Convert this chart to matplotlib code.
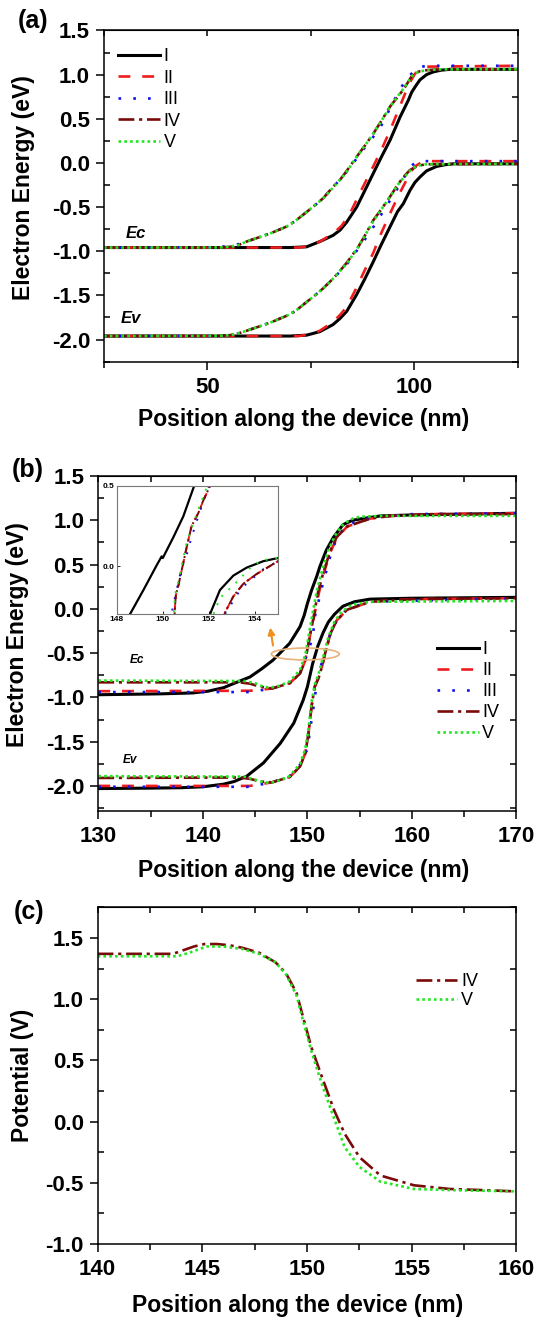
import numpy as np
import matplotlib
matplotlib.use("Agg")
import matplotlib.pyplot as plt
from matplotlib.ticker import MultipleLocator
from matplotlib.patches import Ellipse

plt.rcParams['font.family'] = ['Liberation Sans', 'DejaVu Sans']
plt.rcParams['axes.unicode_minus'] = False

# ---------------- panel (a) data ----------------
a_ec1_x = [25, 70, 74, 77.2, 80.4, 82.1, 83.7, 86.1, 88, 90.1, 92, 94.2, 96.6, 98.6, 99.4, 100.5, 101.4, 103, 104.6, 106.5, 108.7, 125]
a_ec1_y = [-0.958, -0.958, -0.95, -0.89, -0.82, -0.76, -0.67, -0.50, -0.32, -0.12, 0.06, 0.26, 0.52, 0.71, 0.80, 0.88, 0.94, 1.00, 1.03, 1.05, 1.06, 1.06]
a_ec2_x = [25, 72, 75, 77.2, 80.4, 82.5, 84.5, 87, 90.1, 92, 94.2, 96.2, 98.2, 99.2, 100.2, 101.5, 103, 125]
a_ec2_y = [-0.958, -0.958, -0.94, -0.89, -0.80, -0.71, -0.57, -0.33, -0.04, 0.14, 0.37, 0.60, 0.83, 0.93, 1.01, 1.06, 1.09, 1.10]
a_ec3_x = [25, 52, 55.5, 57.5, 59.5, 62, 65.1, 69.2, 71.2, 73.6, 76, 78, 80.4, 82.1, 83.7, 86.1, 88, 89.7, 91.7, 94.2, 96.5, 98.5, 100, 101, 103, 125]
a_ec3_y = [-0.958, -0.955, -0.94, -0.92, -0.89, -0.85, -0.80, -0.72, -0.66, -0.57, -0.48, -0.40, -0.27, -0.19, -0.10, 0.05, 0.17, 0.27, 0.39, 0.62, 0.83, 0.97, 1.04, 1.08, 1.10, 1.10]
a_ec4_x = [25, 53, 55.5, 57.5, 59.5, 62, 65.1, 69.2, 71.2, 73.6, 76, 78, 80.4, 82.1, 83.7, 86.1, 88, 90.1, 92, 94.2, 97.4, 99.8, 101.5, 103, 106, 125]
a_ec4_y = [-0.958, -0.958, -0.95, -0.93, -0.89, -0.85, -0.80, -0.72, -0.66, -0.57, -0.48, -0.40, -0.27, -0.19, -0.09, 0.07, 0.19, 0.33, 0.47, 0.64, 0.83, 1.01, 1.04, 1.05, 1.06, 1.06]
a_ec5_x = [25, 53, 55.5, 57.5, 59.5, 62, 65.1, 69.2, 71.2, 73.6, 76, 78, 80.4, 82.1, 83.7, 86.1, 88, 90.1, 92, 94.2, 97.4, 99.6, 101, 103, 106, 125]
a_ec5_y = [-0.958, -0.957, -0.95, -0.93, -0.89, -0.85, -0.80, -0.72, -0.66, -0.57, -0.48, -0.40, -0.28, -0.19, -0.10, 0.07, 0.19, 0.33, 0.47, 0.64, 0.84, 0.99, 1.03, 1.05, 1.06, 1.06]

a_ev1_x = [25, 70, 74, 77.2, 80.4, 82.1, 83.7, 86.1, 88, 90.1, 92, 94.2, 96, 97.4, 99, 100.2, 101.4, 103, 105.4, 107.5, 109.5, 125]
a_ev1_y = [-1.96, -1.96, -1.95, -1.91, -1.83, -1.76, -1.68, -1.49, -1.32, -1.12, -0.93, -0.72, -0.55, -0.46, -0.31, -0.22, -0.16, -0.09, -0.04, -0.02, -0.01, -0.01]
a_ev2_x = [25, 72, 75, 77.2, 80.4, 82.1, 83.7, 86, 88, 90.1, 92, 94.2, 96.2, 98.2, 99.2, 100.2, 101.5, 103, 125]
a_ev2_y = [-1.96, -1.96, -1.94, -1.90, -1.80, -1.72, -1.63, -1.42, -1.22, -1.02, -0.80, -0.57, -0.37, -0.19, -0.10, -0.04, 0.0, 0.02, 0.02]
a_ev3_x = [25, 52, 55.5, 57.5, 59.5, 62, 65.1, 69.2, 71.2, 73.6, 76, 78, 80.4, 82.1, 83.7, 86.5, 88.5, 90.5, 92.5, 94.5, 96.5, 98, 99.4, 100.5, 102, 125]
a_ev3_y = [-1.96, -1.958, -1.95, -1.93, -1.90, -1.86, -1.81, -1.73, -1.68, -1.59, -1.50, -1.42, -1.31, -1.23, -1.15, -0.97, -0.84, -0.70, -0.55, -0.40, -0.25, -0.13, -0.03, 0.01, 0.02, 0.02]
a_ev4_x = [25, 53, 55.5, 57.5, 59.5, 62, 65.1, 69.2, 71.2, 73.6, 76, 78, 80.4, 82.1, 83.7, 86.5, 88, 90.1, 92, 94.2, 96, 97.4, 99, 101, 103, 125]
a_ev4_y = [-1.96, -1.958, -1.95, -1.93, -1.90, -1.86, -1.81, -1.73, -1.68, -1.59, -1.50, -1.42, -1.31, -1.22, -1.13, -0.95, -0.83, -0.65, -0.53, -0.38, -0.25, -0.16, -0.08, -0.03, -0.015, -0.01]
a_ev5_x = [25, 53, 55.5, 57.5, 59.5, 62, 65.1, 69.2, 71.2, 73.6, 76, 78, 80.4, 82.1, 83.7, 86.5, 88, 90.1, 92, 94.2, 96, 97.4, 98.8, 99.6, 101, 103, 125]
a_ev5_y = [-1.96, -1.957, -1.95, -1.93, -1.90, -1.86, -1.81, -1.73, -1.68, -1.59, -1.50, -1.42, -1.31, -1.22, -1.14, -0.95, -0.83, -0.66, -0.53, -0.38, -0.25, -0.17, -0.10, -0.06, -0.03, -0.015, -0.01]

# ---------------- panel (b) data ----------------
b_ec1_x = [130, 133, 136, 139, 140.5, 142, 142.6, 144.5, 145.6, 146.7, 148.3, 149.3, 149.7, 150.0, 150.4, 150.9, 151.2, 151.8, 152.5, 153.4, 154.3, 155.3, 157, 159.8, 165, 170]
b_ec1_y = [-0.97, -0.965, -0.96, -0.95, -0.93, -0.89, -0.86, -0.77, -0.68, -0.58, -0.39, -0.20, -0.07, 0.06, 0.21, 0.37, 0.48, 0.66, 0.81, 0.95, 1.00, 1.02, 1.05, 1.06, 1.07, 1.08]
b_ec2_x = [130, 144.5, 146.6, 148.3, 149.3, 149.8, 150.3, 150.7, 151.1, 151.5, 152.2, 152.8, 153.8, 156.0, 158, 162, 170]
b_ec2_y = [-0.93, -0.925, -0.90, -0.84, -0.73, -0.58, -0.27, -0.05, 0.18, 0.38, 0.64, 0.80, 0.93, 1.02, 1.05, 1.07, 1.08]
b_ec3_x = [130, 144.4, 146.6, 148.3, 149.3, 149.7, 150.0, 150.5, 150.8, 151.0, 151.25, 151.54, 152.2, 152.8, 153.8, 156, 160, 170]
b_ec3_y = [-0.94, -0.94, -0.90, -0.84, -0.72, -0.60, -0.50, -0.33, -0.02, 0.05, 0.18, 0.31, 0.60, 0.80, 0.95, 1.03, 1.07, 1.08]
b_ec4_x = [130, 143.5, 144.5, 145.5, 146.6, 148.3, 149.3, 149.8, 150.3, 150.6, 151.0, 151.5, 152.2, 152.8, 153.8, 156.0, 158, 162, 170]
b_ec4_y = [-0.83, -0.83, -0.845, -0.88, -0.90, -0.84, -0.73, -0.58, -0.27, -0.09, 0.18, 0.40, 0.66, 0.81, 0.93, 1.02, 1.05, 1.07, 1.07]
b_ec5_x = [130, 144, 145, 145.8, 146.4, 147.3, 148.3, 149.3, 149.8, 150.2, 150.5, 150.9, 151.4, 152, 152.6, 153.3, 154.1, 155, 157, 170]
b_ec5_y = [-0.81, -0.815, -0.84, -0.88, -0.89, -0.87, -0.82, -0.69, -0.52, -0.25, -0.05, 0.20, 0.43, 0.66, 0.82, 0.94, 1.01, 1.04, 1.05, 1.05]

b_ev1_x = [130, 135, 138, 140, 142, 143, 144.2, 145.8, 147.4, 148.7, 149.6, 150.0, 150.5, 151.0, 151.5, 152.0, 152.6, 153.4, 154.5, 156, 160, 170]
b_ev1_y = [-2.03, -2.025, -2.02, -2.01, -1.98, -1.95, -1.89, -1.74, -1.52, -1.29, -1.03, -0.88, -0.62, -0.42, -0.27, -0.15, -0.06, 0.03, 0.08, 0.11, 0.12, 0.13]
b_ev2_x = [130, 144.5, 146.6, 148.3, 149.3, 149.8, 150.1, 150.4, 150.7, 151.1, 151.4, 151.7, 152.2, 152.8, 153.8, 156, 160, 170]
b_ev2_y = [-2.00, -2.00, -1.96, -1.90, -1.78, -1.63, -1.41, -1.10, -0.88, -0.77, -0.65, -0.50, -0.28, -0.13, -0.01, 0.08, 0.11, 0.12]
b_ev3_x = [130, 144.4, 146.6, 148.3, 149.3, 149.7, 150.0, 150.3, 150.6, 150.8, 151.1, 151.5, 152.0, 152.8, 153.8, 156, 170]
b_ev3_y = [-2.01, -2.01, -1.96, -1.89, -1.76, -1.65, -1.59, -1.33, -1.10, -0.92, -0.74, -0.55, -0.34, -0.13, 0.0, 0.08, 0.12]
b_ev4_x = [130, 143.5, 144.5, 145.5, 146.6, 148.3, 149.3, 149.8, 150.1, 150.4, 150.7, 151.1, 151.4, 151.7, 152.2, 152.8, 153.8, 156, 160, 170]
b_ev4_y = [-1.91, -1.905, -1.92, -1.95, -1.96, -1.90, -1.78, -1.63, -1.41, -1.10, -0.88, -0.77, -0.65, -0.50, -0.28, -0.13, -0.01, 0.08, 0.11, 0.12]
b_ev5_x = [130, 144, 145, 145.8, 146.4, 147.3, 148.3, 149.3, 149.8, 150.1, 150.4, 150.7, 151.1, 151.5, 152.0, 152.6, 153.3, 154.3, 156, 170]
b_ev5_y = [-1.89, -1.895, -1.93, -1.96, -1.965, -1.94, -1.89, -1.75, -1.58, -1.36, -1.05, -0.86, -0.72, -0.55, -0.32, -0.14, -0.03, 0.05, 0.08, 0.09]

# inset of (b)
in_l1_x = [148.3, 148.58, 149.16, 149.74, 149.95, 150.0, 150.46, 150.89, 151.36, 151.6]
in_l1_y = [-0.36, -0.30, -0.15, 0.006, 0.06, 0.05, 0.18, 0.31, 0.50, 0.56]
in_l2_x = [150.5, 150.53, 150.57, 150.68, 151.04, 151.25, 151.54, 151.76, 152.05, 152.2]
in_l2_y = [-0.35, -0.25, -0.18, -0.12, 0.12, 0.25, 0.33, 0.41, 0.50, 0.55]
in_l3_x = [150.35, 150.39, 150.60, 150.82, 151.0, 151.25, 151.54, 151.8, 152.0]
in_l3_y = [-0.35, -0.29, -0.15, -0.01, 0.05, 0.18, 0.31, 0.42, 0.50]
in_l5_x = [150.45, 150.53, 150.68, 151.04, 151.33, 151.9, 152.1]
in_l5_y = [-0.35, -0.18, -0.09, 0.15, 0.27, 0.49, 0.55]
in_r1_x = [151.9, 152.05, 152.48, 153.06, 153.64, 154.36, 155.0, 155.3]
in_r1_y = [-0.34, -0.30, -0.15, -0.06, -0.01, 0.03, 0.05, 0.06]
in_r2_x = [152.6, 152.7, 153.06, 153.5, 154.07, 155.0, 155.3]
in_r2_y = [-0.34, -0.29, -0.19, -0.11, -0.05, 0.03, 0.04]
in_r3_x = [152.7, 153.4, 154.36, 155.0, 155.3]
in_r3_y = [-0.30, -0.14, -0.02, 0.03, 0.04]
in_r5_x = [152.2, 152.48, 153.28, 153.93, 154.5, 155.3]
in_r5_y = [-0.30, -0.20, -0.09, 0.01, 0.04, 0.06]

# ---------------- panel (c) data ----------------
c4_x = [140, 143.6, 144.1, 144.6, 145.1, 145.7, 146.3, 146.9, 147.7, 148.5, 149.0, 149.5, 149.8, 150.2, 150.7, 151.3, 151.8, 152.5, 153.5, 155.1, 156.8, 158.5, 160]
c4_y = [1.37, 1.37, 1.40, 1.43, 1.45, 1.45, 1.44, 1.42, 1.38, 1.30, 1.21, 1.05, 0.86, 0.61, 0.37, 0.09, -0.10, -0.29, -0.44, -0.52, -0.55, -0.56, -0.57]
c5_x = [140, 143.8, 144.4, 145.2, 146, 146.9, 147.7, 148.5, 149.0, 149.5, 149.8, 150.2, 150.7, 151.2, 151.8, 152.5, 153.5, 155.1, 157, 160]
c5_y = [1.35, 1.35, 1.38, 1.43, 1.43, 1.41, 1.37, 1.30, 1.20, 1.03, 0.83, 0.58, 0.31, 0.07, -0.21, -0.37, -0.49, -0.55, -0.56, -0.57]

labels = ['I', 'II', 'III', 'IV', 'V']
colors = ['black', '#ee1c1c', '#1010ee', '#7a0a0a', '#22e622']
styles = ['-', (0, (4.5, 4.5)), (0, (1, 4.6)), (0, (6, 1.8, 1.2, 1.8)), (0, (1, 1.2))]
widths = [2.2, 1.9, 1.9, 1.9, 1.9]

tick_fs = 16
label_fs = 16.5


def style_axes(ax, xmaj, xmin, ymaj, ymin):
    ax.xaxis.set_major_locator(MultipleLocator(xmaj))
    ax.xaxis.set_minor_locator(MultipleLocator(xmin))
    ax.yaxis.set_major_locator(MultipleLocator(ymaj))
    ax.yaxis.set_minor_locator(MultipleLocator(ymin))
    ax.tick_params(axis='x', which='major', direction='out', length=6, width=1.1, labelsize=tick_fs, pad=5)
    ax.tick_params(axis='x', which='minor', direction='out', length=4, width=1.1)
    ax.tick_params(axis='y', which='major', direction='out', length=6, width=1.1, labelsize=tick_fs, pad=4)
    ax.tick_params(axis='y', which='minor', direction='in', length=4, width=1.1, right=True)
    for lab in ax.get_xticklabels() + ax.get_yticklabels():
        lab.set_fontweight('bold')
    for sp in ax.spines.values():
        sp.set_linewidth(1.1)
    lo, hi = ax.get_xlim()
    sec = ax.secondary_xaxis('top')
    sec.set_xticks(np.arange(lo, hi + 1e-9, xmin))
    sec.tick_params(direction='in', length=4, width=1.1, labeltop=False)


fig = plt.figure(figsize=(5.41, 13.18), dpi=100)

# ---------------- (a) ----------------
ax_a = fig.add_axes([0.1922, 0.7256, 0.7644, 0.2513])
ec_a = [(a_ec1_x, a_ec1_y), (a_ec2_x, a_ec2_y), (a_ec3_x, a_ec3_y), (a_ec4_x, a_ec4_y), (a_ec5_x, a_ec5_y)]
ev_a = [(a_ev1_x, a_ev1_y), (a_ev2_x, a_ev2_y), (a_ev3_x, a_ev3_y), (a_ev4_x, a_ev4_y), (a_ev5_x, a_ev5_y)]
for i in range(5):
    ax_a.plot(*ec_a[i], color=colors[i], linestyle=styles[i], lw=widths[i], label=labels[i])
    ax_a.plot(*ev_a[i], color=colors[i], linestyle=styles[i], lw=widths[i])
ax_a.set_xlim(25, 125)
ax_a.set_ylim(-2.25, 1.5)
style_axes(ax_a, 50, 25, 0.5, 0.25)
ax_a.set_xlabel('Position along the device (nm)', fontsize=label_fs, fontweight='bold', labelpad=7)
ax_a.xaxis.label.set_x(0.483)
ax_a.set_ylabel('Electron Energy (eV)', fontsize=label_fs, fontweight='bold')
ax_a.yaxis.set_label_coords(-0.168, 0.527)
ax_a.text(32.7, -0.80, 'Ec', fontsize=12, fontweight='bold', fontstyle='italic', ha='center', va='center')
ax_a.text(31.5, -1.76, 'Ev', fontsize=12, fontweight='bold', fontstyle='italic', ha='center', va='center')
ax_a.legend(loc='upper left', bbox_to_anchor=(0.035, 0.947), frameon=False, fontsize=13,
            handlelength=2.3, handletextpad=0.2, labelspacing=0.25, borderaxespad=0, borderpad=0)

# ---------------- (b) ----------------
ax_b = fig.add_axes([0.1817, 0.3849, 0.773, 0.2539])
ec_b = [(b_ec1_x, b_ec1_y), (b_ec2_x, b_ec2_y), (b_ec3_x, b_ec3_y), (b_ec4_x, b_ec4_y), (b_ec5_x, b_ec5_y)]
ev_b = [(b_ev1_x, b_ev1_y), (b_ev2_x, b_ev2_y), (b_ev3_x, b_ev3_y), (b_ev4_x, b_ev4_y), (b_ev5_x, b_ev5_y)]
for i in range(5):
    ax_b.plot(*ec_b[i], color=colors[i], linestyle=styles[i], lw=widths[i], label=labels[i])
    ax_b.plot(*ev_b[i], color=colors[i], linestyle=styles[i], lw=widths[i])
ax_b.set_xlim(130, 170)
ax_b.set_ylim(-2.28, 1.5)
style_axes(ax_b, 10, 5, 0.5, 0.25)
ax_b.set_xlabel('Position along the device (nm)', fontsize=label_fs, fontweight='bold', labelpad=9)
ax_b.xaxis.label.set_x(0.49)
ax_b.set_ylabel('Electron Energy (eV)', fontsize=label_fs, fontweight='bold')
ax_b.yaxis.set_label_coords(-0.166, 0.525)
ax_b.text(133.7, -0.58, 'Ec', fontsize=8.5, fontweight='bold', fontstyle='italic', ha='center', va='center')
ax_b.text(133.0, -1.71, 'Ev', fontsize=8.5, fontweight='bold', fontstyle='italic', ha='center', va='center')
ax_b.add_patch(Ellipse((149.8, -0.51), 6.5, 0.135, fill=False, edgecolor='#e8b27a', lw=1.2, zorder=5))
ax_b.annotate('', xy=(146.4, -0.18), xytext=(146.75, -0.445),
              arrowprops=dict(arrowstyle='-|>', color='#f0901e', lw=1.5, mutation_scale=10))
ax_b.legend(loc='upper left', bbox_to_anchor=(0.81, 0.506), frameon=False, fontsize=13,
            handlelength=2.3, handletextpad=0.2, labelspacing=0.22, borderaxespad=0, borderpad=0)

# inset
ax_in = fig.add_axes([0.2157, 0.5341, 0.2982, 0.0972])
inset_sets = [
    [(in_l1_x, in_l1_y), (in_r1_x, in_r1_y)],
    [(in_l2_x, in_l2_y), (in_r2_x, in_r2_y)],
    [(in_l3_x, in_l3_y), (in_r3_x, in_r3_y)],
    [(in_l2_x, in_l2_y), (in_r2_x, in_r2_y)],
    [(in_l5_x, in_l5_y), (in_r5_x, in_r5_y)],
]
in_styles = ['-', (0, (3, 3)), (0, (1, 5)), (0, (5, 1.5, 1, 1.5)), (0, (1, 4))]
in_widths = [1.6, 1.4, 1.4, 1.4, 1.4]
for i in range(5):
    for xs, ys in inset_sets[i]:
        ax_in.plot(xs, ys, color=colors[i], linestyle=in_styles[i], lw=in_widths[i])
ax_in.set_xlim(148, 155)
ax_in.set_ylim(-0.3, 0.5)
ax_in.set_xticks([148, 150, 152, 154])
ax_in.set_yticks([0.0, 0.5])
ax_in.set_yticklabels(['0.0', '0.5'])
ax_in.tick_params(direction='in', length=2, width=0.6, labelsize=6, pad=1.5)
for lab in ax_in.get_xticklabels() + ax_in.get_yticklabels():
    lab.set_fontweight('bold')
for sp in ax_in.spines.values():
    sp.set_linewidth(0.8)
    sp.set_color('#777777')

# ---------------- (c) ----------------
ax_c = fig.add_axes([0.1804, 0.0561, 0.7743, 0.2555])
ax_c.plot(c4_x, c4_y, color=colors[3], linestyle=styles[3], lw=widths[3], label='IV')
ax_c.plot(c5_x, c5_y, color=colors[4], linestyle=styles[4], lw=widths[4], label='V')
ax_c.set_xlim(140, 160)
ax_c.set_ylim(-1.0, 1.75)
style_axes(ax_c, 5, 2.5, 0.5, 0.25)
ax_c.set_xlabel('Position along the device (nm)', fontsize=label_fs, fontweight='bold', labelpad=10)
ax_c.xaxis.label.set_x(0.478)
ax_c.set_ylabel('Potential (V)', fontsize=label_fs, fontweight='bold')
ax_c.yaxis.set_label_coords(-0.151, 0.502)
ax_c.legend(loc='upper left', bbox_to_anchor=(0.76, 0.805), frameon=False, fontsize=13,
            handlelength=2.3, handletextpad=0.2, labelspacing=0.12, borderaxespad=0, borderpad=0)

fig.text(0.061, 0.984, '(a)', fontsize=18, fontweight='bold', ha='center', va='center')
fig.text(0.052, 0.6434, '(b)', fontsize=18, fontweight='bold', ha='center', va='center')
fig.text(0.0536, 0.308, '(c)', fontsize=18, fontweight='bold', ha='center', va='center')

fig.savefig('out.png', dpi=100)
